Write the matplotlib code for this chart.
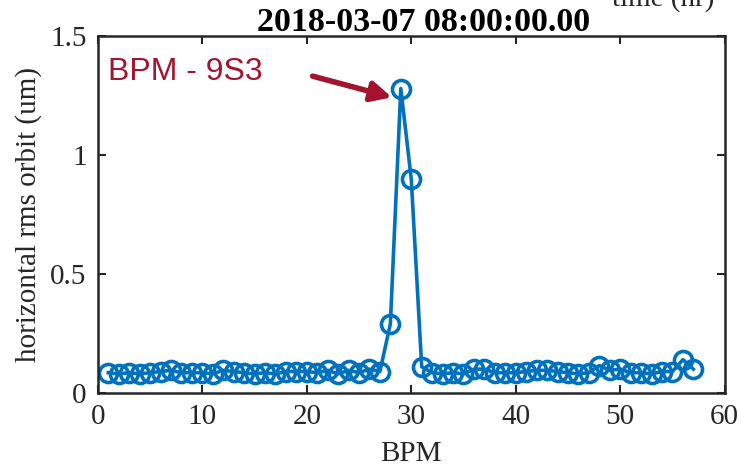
import matplotlib.pyplot as plt
import numpy as np

bpm = np.arange(1, 58)
rms = [0.085, 0.08, 0.085, 0.08, 0.085, 0.09, 0.095, 0.085, 0.085, 0.085,
       0.08, 0.095, 0.09, 0.085, 0.08, 0.085, 0.08, 0.09, 0.09, 0.09,
       0.085, 0.095, 0.08, 0.095, 0.085, 0.1, 0.09, 0.29, 1.28, 0.9,
       0.11, 0.085, 0.08, 0.085, 0.08, 0.1, 0.1, 0.085, 0.085, 0.085,
       0.09, 0.095, 0.095, 0.09, 0.085, 0.08, 0.085, 0.115, 0.095, 0.1,
       0.085, 0.085, 0.08, 0.09, 0.09, 0.14, 0.1]
x_ticks = [0, 10, 20, 30, 40, 50, 60]
y_ticks = [0, 0.5, 1, 1.5]
y_ticklabels = ["0", "0.5", "1", "1.5"]

plt.rcParams['font.family'] = 'Liberation Serif'
fig = plt.figure(figsize=(7.41, 4.70), dpi=100)
ax = fig.add_axes([0.132, 0.164, 0.846, 0.759])

ax.plot(bpm, rms, "o-", color="#0072BD", lw=2.6, ms=13,
        mfc="none", mew=2.6)

ax.set_xlim(0, 60)
ax.set_ylim(0, 1.5)
ax.set_xticks(x_ticks)
ax.set_yticks(y_ticks)
ax.set_yticklabels(y_ticklabels)
ax.tick_params(direction="in", top=True, right=True, labelsize=21,
               length=6, width=1.5, colors="#262626", pad=8)
for s in ax.spines.values():
    s.set_linewidth(1.8)
    s.set_color("#262626")

ax.set_xlabel("BPM", fontsize=21, color="#262626", labelpad=8)
ax.set_ylabel("horizontal rms orbit (um)", fontsize=21, color="#262626", labelpad=6)
ax.set_title("2018-03-07 08:00:00.00", fontsize=24.5, fontweight="bold",
             pad=4, x=0.52)

ax.annotate("", xy=(28.4, 1.24), xytext=(20.3, 1.335),
            arrowprops=dict(arrowstyle="-|>", color="#A2142F", lw=4,
                            mutation_scale=30))
ax.text(1.0, 1.35, "BPM - 9S3", color="#A2142F", fontsize=23,
        family="Liberation Sans", va="center", ha="left")

# label of the panel above, cut off at the top edge as in the original
fig.text(0.895, 1.004, "time (hr)", fontsize=21, ha="center", va="center",
         color="#262626")

fig.savefig("out.png", dpi=100)
